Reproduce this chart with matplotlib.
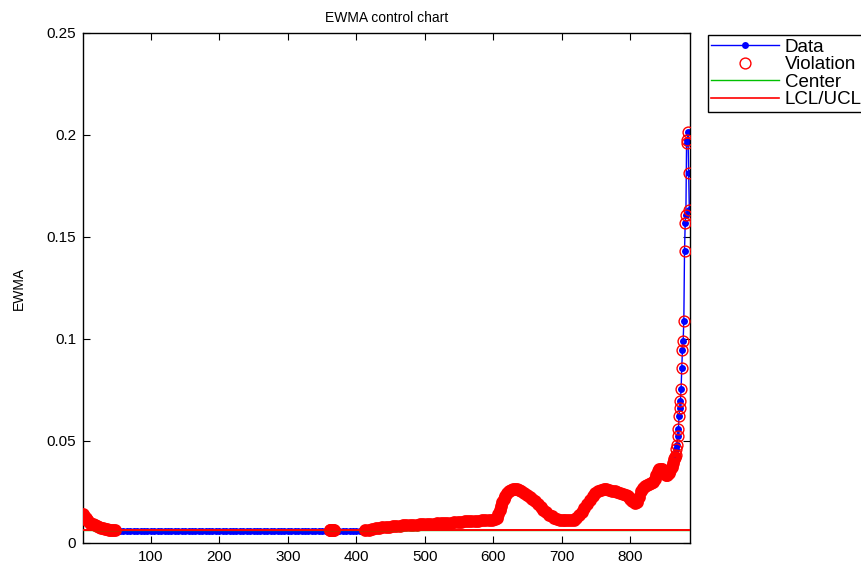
import matplotlib
matplotlib.use("Agg")
import matplotlib.pyplot as plt
import numpy as np

plt.rcParams["font.family"] = ["Liberation Sans", "DejaVu Sans"]

# EWMA statistic, segment by segment (sample index, value)
start_idx = [1, 3, 5, 7, 9, 11, 13, 15, 18, 21, 24, 27, 30, 33, 36, 39, 42, 45, 48]
start_val = [0.0142, 0.0131, 0.0121, 0.0113, 0.0106, 0.0100, 0.0095, 0.0091, 0.0086, 0.0082,
             0.0078, 0.0075, 0.0072, 0.0070, 0.0068, 0.0066, 0.0065, 0.0064, 0.0063]

flat1_idx = list(range(50, 361, 5))
flat1_val = [0.0061, 0.0061, 0.0061, 0.0061, 0.0061, 0.0061, 0.0061, 0.0061, 0.0061, 0.0061,
             0.0061, 0.0061, 0.0061, 0.0061, 0.0061, 0.0061, 0.0061, 0.0061, 0.0061, 0.0061,
             0.0061, 0.0061, 0.0061, 0.0061, 0.0061, 0.0061, 0.0061, 0.0061, 0.0061, 0.0061,
             0.0061, 0.0061, 0.0061, 0.0061, 0.0061, 0.0061, 0.0061, 0.0061, 0.0061, 0.0061,
             0.0061, 0.0061, 0.0061, 0.0061, 0.0061, 0.0061, 0.0061, 0.0061, 0.0061, 0.0061,
             0.0061, 0.0061, 0.0061, 0.0061, 0.0061, 0.0061, 0.0061, 0.0061, 0.0061, 0.0061,
             0.0061, 0.0061, 0.0061]

blob_idx = [361, 362, 363, 364, 365, 366, 367]
blob_val = [0.0064, 0.0065, 0.0066, 0.0066, 0.0066, 0.0065, 0.0064]

flat2_idx = [370, 375, 380, 385, 390, 395, 400, 405, 410]
flat2_val = [0.0061, 0.0061, 0.0061, 0.0061, 0.0061, 0.0061, 0.0061, 0.0061, 0.0061]

rise_idx = list(range(413, 604, 5))
rise_val = [0.0063, 0.0066, 0.0069, 0.0072, 0.0074, 0.0076, 0.0078, 0.0080, 0.0082, 0.0083,
            0.0085, 0.0086, 0.0087, 0.0088, 0.0089, 0.0090, 0.0091, 0.0092, 0.0093, 0.0094,
            0.0095, 0.0096, 0.0097, 0.0098, 0.0099, 0.0100, 0.0101, 0.0103, 0.0105, 0.0107,
            0.0108, 0.0109, 0.0110, 0.0110, 0.0111, 0.0112, 0.0113, 0.0114, 0.0116]

wave_idx = [605, 607, 609, 611, 613, 615, 617, 620, 623, 626, 629, 632, 635, 638, 641, 645,
            649, 653, 657, 661, 665, 669, 673, 677, 681, 685, 689, 693, 697, 701, 705, 709,
            713, 717, 721, 725, 729, 733, 737, 741, 745, 749, 753, 757, 761, 765, 769, 773,
            777, 781, 785, 789, 793, 797, 800, 803, 806, 809, 812, 815, 818, 821, 824, 827,
            830, 833, 836, 838, 840, 842, 844, 846, 848, 850, 852, 854, 856, 858, 860, 862,
            864, 865]
wave_val = [0.0125, 0.0140, 0.0160, 0.0180, 0.0200, 0.0217, 0.0230, 0.0245, 0.0255, 0.0261,
            0.0264, 0.0265, 0.0263, 0.0259, 0.0254, 0.0246, 0.0237, 0.0227, 0.0216, 0.0204,
            0.0191, 0.0177, 0.0163, 0.0150, 0.0139, 0.0130, 0.0123, 0.0118, 0.0114, 0.0112,
            0.0111, 0.0111, 0.0112, 0.0115, 0.0122, 0.0135, 0.0152, 0.0172, 0.0193, 0.0213,
            0.0230, 0.0244, 0.0255, 0.0262, 0.0265, 0.0264, 0.0261, 0.0257, 0.0253, 0.0249,
            0.0245, 0.0241, 0.0236, 0.0228, 0.0218, 0.0205, 0.0197, 0.0202, 0.0225, 0.0255,
            0.0272, 0.0280, 0.0285, 0.0290, 0.0294, 0.0300, 0.0315, 0.0335, 0.0352, 0.0362,
            0.0365, 0.0362, 0.0352, 0.0340, 0.0333, 0.0335, 0.0343, 0.0358, 0.0375, 0.0393,
            0.0410, 0.0420]

tail_idx = list(range(866, 887))
tail_val = [0.0430, 0.0460, 0.0480, 0.0526, 0.0557, 0.0623, 0.0660, 0.0698, 0.0755, 0.0860,
            0.0946, 0.0990, 0.1090, 0.1430, 0.1570, 0.1610, 0.1962, 0.1975, 0.2013, 0.1812,
            0.1632]

center = 0.0062
lcl = 0.0062
ucl = 0.0062

x_ticks = [100, 200, 300, 400, 500, 600, 700, 800]
y_ticks = [0, 0.05, 0.1, 0.15, 0.2, 0.25]
y_ticklabels = ["0", "0.05", "0.1", "0.15", "0.2", "0.25"]

idx = np.array(start_idx + flat1_idx + blob_idx + flat2_idx + rise_idx + wave_idx + tail_idx)
ewma = np.array(start_val + flat1_val + blob_val + flat2_val + rise_val + wave_val + tail_val)
viol = ewma > ucl
# the original has a point at every sample, so the circles merge into a solid band;
# thicker rings reproduce that where the samples here are sparser
dense = viol & (idx < tail_idx[0])
sparse = viol & (idx >= tail_idx[0])

fig = plt.figure(figsize=(8.62, 5.64), dpi=100)
ax = fig.add_axes([83 / 862, 1 - 543 / 564, 607 / 862, 510 / 564])

ax.plot(idx, ewma, color="blue", lw=1.0, marker="o", ms=5.0, mec="none", mfc="blue",
        label="Data", zorder=2)
ax.plot(idx[dense], ewma[dense], ls="none", marker="o", ms=6.2, mfc="none", mec="red",
        mew=3.0, zorder=3)
ax.plot(idx[sparse], ewma[sparse], ls="none", marker="o", ms=7.8, mfc="none", mec="red",
        mew=1.0, label="Violation", zorder=3)
ax.axhline(center, color="#00c000", lw=1.0, label="Center", zorder=4)
ax.axhline(ucl, color="red", lw=1.2, label="LCL/UCL", zorder=5)
ax.axhline(lcl, color="red", lw=1.2, zorder=5)

ax.set_xlim(1, 887)
ax.set_ylim(0, 0.25)
ax.set_xticks(x_ticks)
ax.set_yticks(y_ticks)
ax.set_yticklabels(y_ticklabels)
ax.tick_params(direction="in", length=5, width=0.8, top=True, right=True,
               labelsize=11, pad=5)
for sp in ax.spines.values():
    sp.set_linewidth(1.0)

ax.set_title("EWMA control chart", fontsize=10, pad=8)
ax.set_ylabel("EWMA", fontsize=10, labelpad=15)

leg = ax.legend(loc="upper left", bbox_to_anchor=(1.029, 0.996), fontsize=13.5,
                frameon=True, fancybox=False, framealpha=1, edgecolor="black",
                borderpad=0.2, labelspacing=0.02, handlelength=3.6, handletextpad=0.32,
                numpoints=1, borderaxespad=0)
leg.get_frame().set_linewidth(1.0)

fig.savefig("out.png", dpi=100)
